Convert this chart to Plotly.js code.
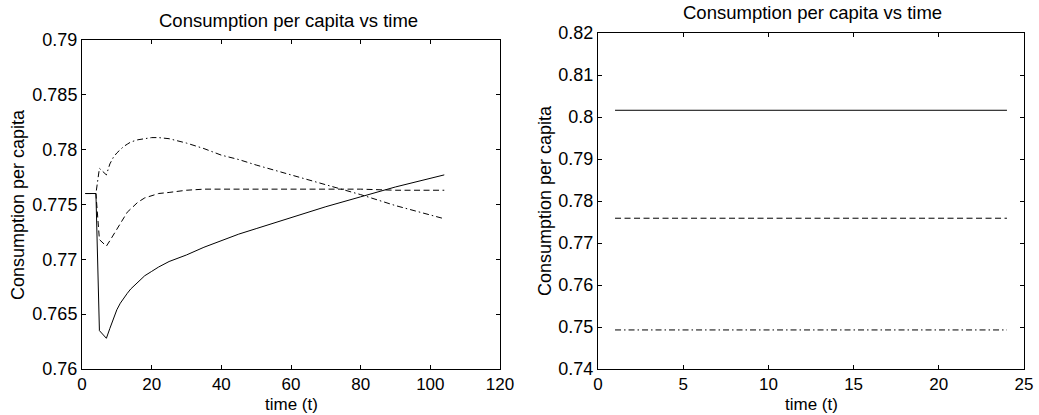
<!DOCTYPE html>
<html>
<head>
<meta charset="utf-8">
<script src="https://cdn.plot.ly/plotly-3.0.1.min.js"></script>
<style>html,body{margin:0;padding:0;background:#fff;}#chart{width:1039px;height:415px;}</style>
</head>
<body>
<div id="chart"></div>
<script>
// Left panel: consumption per capita over time (three scenarios)
const tLeft = [1, 4, 5, 7, 8, 9, 10, 11, 12, 13, 14, 15, 16, 18, 20, 22, 25, 30, 35, 40, 45, 50, 60, 70, 80, 90, 104];
const solidLeft = [0.776, 0.776, 0.7635, 0.7628, 0.7637, 0.7646, 0.7654, 0.7660, 0.7665, 0.7669, 0.7673, 0.7676, 0.7679, 0.7685, 0.7689, 0.7693, 0.7698, 0.7704, 0.7711, 0.7717, 0.7723, 0.7728, 0.7738, 0.7748, 0.7757, 0.7766, 0.7777];
const dashedLeft = [0.776, 0.776, 0.7718, 0.7712, 0.7717, 0.7722, 0.7728, 0.7733, 0.7738, 0.7743, 0.7746, 0.7749, 0.7752, 0.7756, 0.7758, 0.7760, 0.7761, 0.7763, 0.7764, 0.7764, 0.7764, 0.7764, 0.7764, 0.7764, 0.7764, 0.7763, 0.7763];
const dashdotLeft = [0.776, 0.776, 0.7783, 0.7777, 0.7787, 0.7793, 0.7797, 0.7800, 0.7803, 0.7805, 0.7807, 0.7808, 0.7809, 0.7810, 0.7811, 0.7811, 0.7810, 0.7806, 0.7801, 0.7795, 0.7791, 0.7786, 0.7777, 0.7768, 0.7759, 0.7749, 0.7737];

// Right panel: constant paths
const tRight = [1, 24];
const solidRight = [0.8016, 0.8016];
const dashedRight = [0.7759, 0.7759];
const dashdotRight = [0.7493, 0.7493];

const titleText = 'Consumption per capita vs time';
const xTitle = 'time (t)';
const yTitle = 'Consumption per capita';

const W = 1039, H = 415;
const FONT = 'Liberation Sans, Arial, Helvetica, sans-serif';
const FS = 18;
const XFS = 17;
const TFS = 18.5;
const DASH = '6px,3.5px';
const DASHDOT = '6px,3px,1.5px,3px';

function line(x, y, dash, xa, ya) {
  return {x: x, y: y, mode: 'lines', type: 'scatter', xaxis: xa, yaxis: ya,
    line: {color: '#000', width: 1, dash: dash}, hoverinfo: 'skip', showlegend: false};
}

const data = [
  line(tLeft, solidLeft, 'solid', 'x', 'y'),
  line(tLeft, dashedLeft, DASH, 'x', 'y'),
  line(tLeft, dashdotLeft, DASHDOT, 'x', 'y'),
  line(tRight, solidRight, 'solid', 'x2', 'y2'),
  line(tRight, dashedRight, DASH, 'x2', 'y2'),
  line(tRight, dashdotRight, DASHDOT, 'x2', 'y2')
];

function ax(extra, size) {
  return Object.assign({
    showline: true, linecolor: '#000', linewidth: 1, mirror: 'ticks',
    ticks: 'inside', ticklen: 4, tickwidth: 1, tickcolor: '#000',
    showgrid: false, zeroline: false, fixedrange: true,
    tickfont: {family: FONT, size: size || FS, color: '#000'}
  }, extra);
}

function px(x) { return x / W; }
function py(y) { return 1 - y / H; }

const annot = (text, x, y, angle, size) => ({
  text: text, xref: 'paper', yref: 'paper', x: px(x), y: py(y),
  xanchor: 'center', yanchor: 'middle', showarrow: false, textangle: angle || 0,
  font: {family: FONT, size: size || FS, color: '#000'}
});

const layout = {
  width: W, height: H,
  margin: {l: 0, r: 0, t: 0, b: 0},
  paper_bgcolor: '#fff', plot_bgcolor: '#fff',
  showlegend: false,
  xaxis: ax({domain: [px(82), px(500)], range: [0, 120], dtick: 20, tick0: 0, anchor: 'y'}, XFS),
  yaxis: ax({domain: [py(369), py(40)], range: [0.76, 0.79], dtick: 0.005, tick0: 0.76, anchor: 'x'}),
  xaxis2: ax({domain: [px(598), px(1024)], range: [0, 25], dtick: 5, tick0: 0, anchor: 'y2'}, XFS),
  yaxis2: ax({domain: [py(369), py(33)], range: [0.74, 0.82], dtick: 0.01, tick0: 0.74, anchor: 'x2'}),
  annotations: [
    annot(titleText, 288, 20, 0, TFS),
    annot(titleText, 812, 13, 0, TFS),
    annot(xTitle, 291, 404, 0, XFS),
    annot(xTitle, 811, 404, 0, XFS),
    annot(yTitle, 18, 205, -90),
    annot(yTitle, 545, 201, -90)
  ]
};

Plotly.newPlot('chart', data, layout, {displayModeBar: false, staticPlot: true});
</script>
</body>
</html>
